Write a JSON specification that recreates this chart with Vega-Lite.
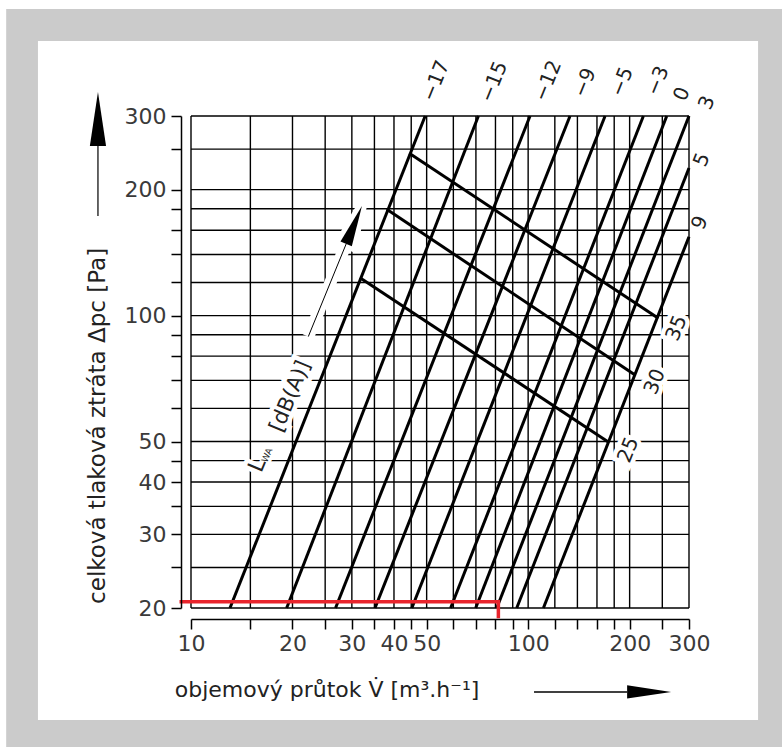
{
  "$schema": "https://vega.github.io/schema/vega-lite/v6.json",
  "width": 498,
  "height": 492,
  "autosize": "none",
  "padding": {"left": 191, "top": 116, "right": 93, "bottom": 139},
  "background": "white",
  "config": {
    "view": {"stroke": null},
    "axis": {
      "grid": false,
      "domainColor": "black",
      "domainWidth": 1.5,
      "tickColor": "black",
      "tickWidth": 1.5,
      "tickSize": 10,
      "labelFont": "DejaVu Sans",
      "labelFontSize": 22,
      "labelColor": "#3a3a3a",
      "labelFlush": false,
      "labelOverlap": false,
      "labelBound": false
    },
    "text": {"font": "DejaVu Sans", "color": "#222222"}
  },
  "datasets": {
    "vgrid": [{"q":10},{"q":15},{"q":20},{"q":25},{"q":30},{"q":35},{"q":40},{"q":45},{"q":50},{"q":60},{"q":70},{"q":80},{"q":90},{"q":100},{"q":120},{"q":140},{"q":160},{"q":180},{"q":200},{"q":250},{"q":300}],
    "hgrid": [{"p":20},{"p":25},{"p":30},{"p":35},{"p":40},{"p":45},{"p":50},{"p":60},{"p":70},{"p":80},{"p":90},{"p":100},{"p":120},{"p":140},{"p":160},{"p":180},{"p":200},{"p":250},{"p":300}],
    "lines": [
      {"line":"−17","q":13.05,"p":20},{"line":"−17","q":49.5,"p":300},
      {"line":"−15","q":19.22,"p":20},{"line":"−15","q":71.2,"p":300},
      {"line":"−12","q":26.84,"p":20},{"line":"−12","q":101.3,"p":300},
      {"line":"−9","q":35.14,"p":20},{"line":"−9","q":133.1,"p":300},
      {"line":"−5","q":45.2,"p":20},{"line":"−5","q":169.1,"p":300},
      {"line":"−3","q":58.9,"p":20},{"line":"−3","q":219.7,"p":300},
      {"line":"0","q":69.9,"p":20},{"line":"0","q":257.7,"p":300},
      {"line":"3","q":80.7,"p":20},{"line":"3","q":300,"p":300},
      {"line":"5","q":92.5,"p":20},{"line":"5","q":300,"p":225.4},
      {"line":"9","q":111,"p":20},{"line":"9","q":300,"p":154.4}
    ],
    "lineLabels": [
      {"label":"−17","q":53.3,"p":363.8},
      {"label":"−15","q":79.2,"p":361.8},
      {"label":"−12","q":114.6,"p":363.8},
      {"label":"−9","q":147.5,"p":359.9},
      {"label":"−5","q":190,"p":361.8},
      {"label":"−3","q":242.8,"p":363.8},
      {"label":"0","q":286.1,"p":338.6},
      {"label":"3","q":339.5,"p":322.4},
      {"label":"5","q":328.1,"p":235.6},
      {"label":"9","q":323.6,"p":166.5}
    ],
    "lwa": [
      {"lwa":"35","q":44.4,"p":244.4},{"lwa":"35","q":243.3,"p":98.5},
      {"lwa":"30","q":38.06,"p":179.5},{"lwa":"30","q":207.6,"p":72.1},
      {"lwa":"25","q":31.7,"p":123.2},{"lwa":"25","q":172.9,"p":49.9}
    ],
    "lwaLabels": [
      {"label":"35","q":276,"p":93.3},
      {"label":"30","q":237.9,"p":69.5},
      {"label":"25","q":198.3,"p":47.7}
    ],
    "red": [
      {"i":1,"q":9.245,"p":20.7},
      {"i":2,"q":81.6,"p":20.7},
      {"i":3,"q":81.6,"p":18.9}
    ]
  },
  "layer": [
    {
      "data": {"values": [{}]},
      "mark": {"type": "rect", "fill": "#cbcbcb"},
      "encoding": {
        "x": {"datum": 2.83, "type": "quantitative",
          "scale": {"type": "log", "domain": [10, 300], "nice": false},
          "axis": {"title": null, "offset": 11, "labelPadding": 4, "zindex": 2,
            "values": [10,15,20,25,30,35,40,45,50,60,70,80,90,100,120,140,160,180,200,250,300],
            "labelExpr": "indexof([10,20,30,40,50,100,200,300], datum.value) >= 0 ? toString(datum.value) : ''"}},
        "x2": {"datum": 1000},
        "y": {"datum": 5, "type": "quantitative",
          "scale": {"type": "log", "domain": [20, 300], "nice": false},
          "axis": {"title": null, "offset": 10, "labelPadding": 5, "zindex": 2,
            "values": [20,25,30,35,40,45,50,60,70,80,90,100,120,140,160,180,200,250,300],
            "labelExpr": "indexof([20,30,40,50,100,200,300], datum.value) >= 0 ? toString(datum.value) : ''"}},
        "y2": {"datum": 540.8}
      }
    },
    {
      "data": {"values": [{}]},
      "mark": {"type": "rect", "fill": "white"},
      "encoding": {
        "x": {"datum": 3.516, "type": "quantitative"},
        "x2": {"datum": 480.8},
        "y": {"datum": 10.8, "type": "quantitative"},
        "y2": {"datum": 453.5}
      }
    },
    {
      "data": {"name": "vgrid"},
      "mark": {"type": "rule", "color": "black", "strokeWidth": 1.4},
      "encoding": {
        "x": {"field": "q", "type": "quantitative", "title": null},
        "y": {"datum": 20, "type": "quantitative"},
        "y2": {"datum": 300}
      }
    },
    {
      "data": {"name": "hgrid"},
      "mark": {"type": "rule", "color": "black", "strokeWidth": 1.4},
      "encoding": {
        "y": {"field": "p", "type": "quantitative", "title": null},
        "x": {"datum": 10, "type": "quantitative"},
        "x2": {"datum": 300}
      }
    },
    {
      "data": {"name": "lwaLabels"},
      "mark": {"type": "text", "fontSize": 20, "angle": -68, "align": "center", "baseline": "middle", "color": "white", "stroke": "white", "strokeWidth": 9},
      "encoding": {
        "x": {"field": "q", "type": "quantitative", "title": null},
        "y": {"field": "p", "type": "quantitative", "title": null},
        "text": {"field": "label"}
      }
    },
    {
      "data": {"values": [{}]},
      "mark": {"type": "text", "fontSize": 22, "angle": -67.4, "align": "center", "baseline": "middle", "text": "L", "color": "white", "stroke": "white", "strokeWidth": 9},
      "encoding": {"x": {"datum": 15.7, "type": "quantitative"}, "y": {"datum": 43.9, "type": "quantitative"}}
    },
    {
      "data": {"values": [{}]},
      "mark": {"type": "text", "fontSize": 21, "angle": -67.4, "align": "center", "baseline": "middle", "text": "[dB(A)]", "color": "white", "stroke": "white", "strokeWidth": 9},
      "encoding": {"x": {"datum": 19.73, "type": "quantitative"}, "y": {"datum": 64.1, "type": "quantitative"}}
    },
    {
      "data": {"values": [{}]},
      "mark": {"type": "rule", "color": "white", "strokeWidth": 12},
      "encoding": {
        "x": {"datum": 22.28, "type": "quantitative"}, "y": {"datum": 89.1, "type": "quantitative"},
        "x2": {"datum": 28.88}, "y2": {"datum": 148.6}
      }
    },
    {
      "data": {"values": [{}]},
      "mark": {"type": "point", "shape": "M0,-1L0.3,1L-0.3,1Z", "filled": true, "color": "white", "stroke": "white", "strokeWidth": 10, "opacity": 1, "size": 1681, "angle": 22.6},
      "encoding": {"x": {"datum": 30.45, "type": "quantitative"}, "y": {"datum": 164.7, "type": "quantitative"}}
    },
    {
      "data": {"name": "lwa"},
      "mark": {"type": "line", "color": "black", "strokeWidth": 3},
      "encoding": {
        "x": {"field": "q", "type": "quantitative", "title": null},
        "y": {"field": "p", "type": "quantitative", "title": null},
        "detail": {"field": "lwa"}
      }
    },
    {
      "data": {"name": "lines"},
      "mark": {"type": "line", "color": "black", "strokeWidth": 3},
      "encoding": {
        "x": {"field": "q", "type": "quantitative", "title": null},
        "y": {"field": "p", "type": "quantitative", "title": null},
        "detail": {"field": "line"}
      }
    },
    {
      "data": {"name": "red"},
      "mark": {"type": "line", "color": "#e8242c", "strokeWidth": 3.5, "strokeJoin": "miter"},
      "encoding": {
        "x": {"field": "q", "type": "quantitative", "title": null},
        "y": {"field": "p", "type": "quantitative", "title": null},
        "order": {"field": "i"}
      }
    },
    {
      "data": {"name": "lineLabels"},
      "mark": {"type": "text", "fontSize": 20, "angle": -68, "align": "center", "baseline": "middle"},
      "encoding": {
        "x": {"field": "q", "type": "quantitative", "title": null},
        "y": {"field": "p", "type": "quantitative", "title": null},
        "text": {"field": "label"}
      }
    },
    {
      "data": {"name": "lwaLabels"},
      "mark": {"type": "text", "fontSize": 20, "angle": -68, "align": "center", "baseline": "middle"},
      "encoding": {
        "x": {"field": "q", "type": "quantitative", "title": null},
        "y": {"field": "p", "type": "quantitative", "title": null},
        "text": {"field": "label"}
      }
    },
    {
      "data": {"values": [{}]},
      "mark": {"type": "text", "fontSize": 22, "angle": -67.4, "align": "center", "baseline": "middle", "text": "L"},
      "encoding": {"x": {"datum": 15.7, "type": "quantitative"}, "y": {"datum": 43.9, "type": "quantitative"}}
    },
    {
      "data": {"values": [{}]},
      "mark": {"type": "text", "fontSize": 9, "angle": -67.4, "align": "center", "baseline": "middle", "text": "WA"},
      "encoding": {"x": {"datum": 16.8, "type": "quantitative"}, "y": {"datum": 46.4, "type": "quantitative"}}
    },
    {
      "data": {"values": [{}]},
      "mark": {"type": "text", "fontSize": 21, "angle": -67.4, "align": "center", "baseline": "middle", "text": "[dB(A)]"},
      "encoding": {"x": {"datum": 19.73, "type": "quantitative"}, "y": {"datum": 64.1, "type": "quantitative"}}
    },
    {
      "data": {"values": [{}]},
      "mark": {"type": "rule", "color": "black", "strokeWidth": 1},
      "encoding": {
        "x": {"datum": 22.28, "type": "quantitative"}, "y": {"datum": 89.1, "type": "quantitative"},
        "x2": {"datum": 28.88}, "y2": {"datum": 148.6}
      }
    },
    {
      "data": {"values": [{}]},
      "mark": {"type": "point", "shape": "M0,-1L0.3,1L-0.3,1Z", "filled": true, "color": "black", "opacity": 1, "size": 1681, "angle": 22.6},
      "encoding": {"x": {"datum": 30.45, "type": "quantitative"}, "y": {"datum": 164.7, "type": "quantitative"}}
    },
    {
      "data": {"values": [{}]},
      "mark": {"type": "text", "fontSize": 23, "angle": -90, "align": "center", "baseline": "middle", "text": "celková  tlaková  ztráta  Δpc  [Pa]"},
      "encoding": {"x": {"datum": 5.297, "type": "quantitative"}, "y": {"datum": 54.5, "type": "quantitative"}}
    },
    {
      "data": {"values": [{}]},
      "mark": {"type": "rule", "color": "black", "strokeWidth": 1.2},
      "encoding": {
        "x": {"datum": 5.297, "type": "quantitative"}, "y": {"datum": 173, "type": "quantitative"},
        "y2": {"datum": 254.4}
      }
    },
    {
      "data": {"values": [{}]},
      "mark": {"type": "point", "shape": "M0,-1L0.3,1L-0.3,1Z", "filled": true, "color": "black", "opacity": 1, "size": 2916, "angle": 0},
      "encoding": {"x": {"datum": 5.297, "type": "quantitative"}, "y": {"datum": 295.2, "type": "quantitative"}}
    },
    {
      "data": {"values": [{}]},
      "mark": {"type": "text", "fontSize": 22, "align": "center", "baseline": "middle", "text": "objemový  průtok  V̇  [m³.h⁻¹]"},
      "encoding": {"x": {"datum": 25.32, "type": "quantitative"}, "y": {"datum": 12.74, "type": "quantitative"}}
    },
    {
      "data": {"values": [{}]},
      "mark": {"type": "rule", "color": "black", "strokeWidth": 1.5},
      "encoding": {
        "x": {"datum": 104.1, "type": "quantitative"}, "x2": {"datum": 196.5},
        "y": {"datum": 12.6, "type": "quantitative"}
      }
    },
    {
      "data": {"values": [{}]},
      "mark": {"type": "point", "shape": "M0,-1L0.3,1L-0.3,1Z", "filled": true, "color": "black", "opacity": 1, "size": 1936, "angle": 90},
      "encoding": {"x": {"datum": 228.5, "type": "quantitative"}, "y": {"datum": 12.6, "type": "quantitative"}}
    }
  ]
}
